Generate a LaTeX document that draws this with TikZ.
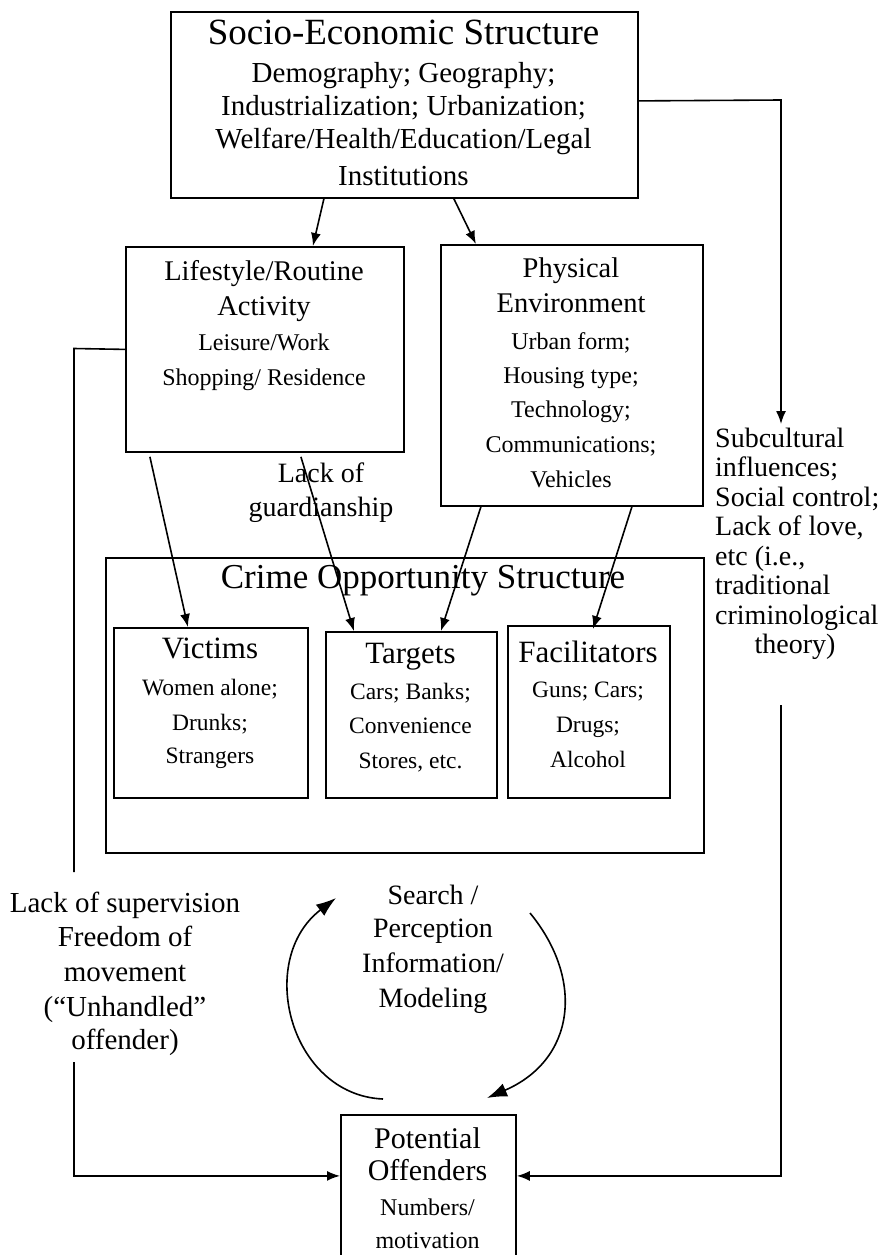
\documentclass[tikz,border=0pt]{standalone}
\usepackage{fontspec}
\setmainfont{Liberation Serif}
\usetikzlibrary{arrows.meta}
\begin{document}
\begin{tikzpicture}[x=1pt,y=-1pt,
  box/.style={draw, line width=1.8pt, rectangle, inner sep=0pt, anchor=north west},
  tbig/.style={anchor=base, inner sep=0pt, font=\fontsize{37}{40}\selectfont},
  thead/.style={anchor=base, inner sep=0pt, font=\fontsize{28.5}{32}\selectfont},
  tsub/.style={anchor=base, inner sep=0pt, font=\fontsize{24}{28}\selectfont},
  ttop/.style={anchor=base, inner sep=0pt, font=\fontsize{29}{32}\selectfont},
  tinh/.style={anchor=base, inner sep=0pt, font=\fontsize{31}{34}\selectfont},
  tins/.style={anchor=base, inner sep=0pt, font=\fontsize{23.5}{27}\selectfont},
  tfree/.style={anchor=base, inner sep=0pt, font=\fontsize{28}{30}\selectfont},
  tleft/.style={anchor=base, inner sep=0pt, font=\fontsize{29}{32}\selectfont},
  ln/.style={line width=1.6pt},
  arr/.style={line width=1.6pt, -{Latex[length=13pt,width=10pt]}},
  arrbig/.style={line width=1.6pt, -{Latex[length=20pt,width=14pt]}}]

\useasboundingbox (0,0) rectangle (895,1255);
\fill[white] (0,0) rectangle (895,1255);

% boxes
\node[box, minimum width=467pt, minimum height=186pt] (se) at (170,11) {};
\node[box, minimum width=278pt, minimum height=205pt] (ls) at (125,246) {};
\node[box, minimum width=262pt, minimum height=261pt] (pe) at (440,244) {};
\node[box, minimum width=598pt, minimum height=295pt] (co) at (105,557) {};
\node[box, minimum width=194pt, minimum height=170pt] (vi) at (113,627) {};
\node[box, minimum width=171pt, minimum height=166pt] (ta) at (325,631) {};
\node[box, minimum width=162pt, minimum height=172pt] (fa) at (507,625) {};
\node[box, minimum width=175pt, minimum height=176pt] (po) at (340,1114) {};

% Socio-Economic Structure
\node[tbig] (se1) at (403.5,45) {Socio-Economic Structure};
\node[ttop] (se2) at (403.5,82) {Demography; Geography;};
\node[ttop] (se3) at (403.5,115) {Industrialization; Urbanization;};
\node[ttop] (se4) at (403.5,148) {Welfare/Health/Education/Legal};
\node[ttop] (se5) at (403.5,185) {Institutions};

% Lifestyle
\node[thead] (ls1) at (264,280) {Lifestyle/Routine};
\node[thead] (ls2) at (264,315) {Activity};
\node[tsub] (ls3) at (264,350) {Leisure/Work};
\node[tsub] (ls4) at (264,385) {Shopping/ Residence};

% Physical
\node[thead] (pe1) at (571,277) {Physical};
\node[thead] (pe2) at (571,312) {Environment};
\node[tsub] (pe3) at (571,349) {Urban form;};
\node[tsub] (pe4) at (571,383) {Housing type;};
\node[tsub] (pe5) at (571,417) {Technology;};
\node[tsub] (pe6) at (571,452) {Communications;};
\node[tsub] (pe7) at (571,487) {Vehicles};

% guardianship label
\node[tfree] (gu1) at (321,482) {Lack of};
\node[tfree] (gu2) at (321,516) {guardianship};

% Crime opportunity
\node[anchor=base, inner sep=0pt, font=\fontsize{35}{38}\selectfont] (co1) at (423,588) {Crime Opportunity Structure};

\node[tinh] (vi1) at (210,658) {Victims};
\node[tins] (vi2) at (210,695) {Women alone;};
\node[tins] (vi3) at (210,730) {Drunks;};
\node[tins] (vi4) at (210,763) {Strangers};

\node[tinh] (ta1) at (410.5,663) {Targets};
\node[tins] (ta2) at (410.5,699) {Cars; Banks;};
\node[tins] (ta3) at (410.5,733) {Convenience};
\node[tins] (ta4) at (410.5,768) {Stores, etc.};

\node[tinh] (fa1) at (588,662) {Facilitators};
\node[tins] (fa2) at (588,697) {Guns; Cars;};
\node[tins] (fa3) at (588,732) {Drugs;};
\node[tins] (fa4) at (588,767) {Alcohol};

% right text
\node[tfree, anchor=base west] (rt1) at (715,447) {Subcultural};
\node[tfree, anchor=base west] (rt2) at (715,476.5) {influences;};
\node[tfree, anchor=base west] (rt3) at (715,506) {Social control;};
\node[tfree, anchor=base west] (rt4) at (715,535.5) {Lack of love,};
\node[tfree, anchor=base west] (rt5) at (715,565) {etc (i.e.,};
\node[tfree, anchor=base west] (rt6) at (715,594.5) {traditional};
\node[tfree, anchor=base west] (rt7) at (715,624) {criminological};
\node[tfree] (rt8) at (795,653.5) {theory)};

% left text
\node[tleft] (lt1) at (125,912) {Lack of supervision};
\node[tleft] (lt2) at (125,946) {Freedom of};
\node[tleft] (lt3) at (125,981) {movement};
\node[tleft] (lt4) at (125,1016) {(“Unhandled”};
\node[tleft] (lt5) at (125,1049) {offender)};

% search text
\node[tfree] (sr1) at (433,904) {Search /};
\node[tfree] (sr2) at (433,937) {Perception};
\node[tfree] (sr3) at (433,972) {Information/};
\node[tfree] (sr4) at (433,1007) {Modeling};

% potential offenders
\node[anchor=base, inner sep=0pt, font=\fontsize{30}{33}\selectfont] (po1) at (427.5,1148) {Potential};
\node[anchor=base, inner sep=0pt, font=\fontsize{30}{33}\selectfont] (po2) at (427.5,1180) {Offenders};
\node[tsub] (po3) at (427.5,1215) {Numbers/};
\node[tsub] (po4) at (427.5,1248) {motivation};

% arrows from top box
\draw[arr] ([xshift=-80.5pt]se.south) -- ([xshift=48pt]ls.north);
\draw[arr] ([xshift=49.5pt]se.south) -- ([xshift=-96pt]pe.north);

% lifestyle to victims / targets
\draw[arr] ([xshift=-115pt,yshift=-4pt]ls.south) -- ([xshift=-23pt]vi.north);
\draw[arr] ([xshift=36pt,yshift=-4pt]ls.south) -- ([xshift=-57.5pt]ta.north);

% physical to targets / facilitators
\draw[arr] ([xshift=-91pt]pe.south) -- ([xshift=29.5pt]ta.north);
\draw[arr] ([xshift=60pt]pe.south) -- ([xshift=4pt,yshift=-4pt]fa.north);

% right bracket
\coordinate (rc) at (781,100);
\coordinate (rtip) at (781,424);
\draw[arr] ([yshift=4pt]se.east) -- (rc) -- (rtip);
\coordinate (rs) at (781,705);
\draw[arr] (rs) |- ([yshift=27pt]po.east);

% left bracket
\coordinate (lc1) at (74,348.5);
\coordinate (lc2) at (74,872);
\draw[ln] (ls.west) -- (lc1) -- (lc2);
\coordinate (lc3) at (74,1062);
\draw[arr] (lc3) |- ([yshift=27pt]po.west);

% cycle arcs
\coordinate (la1) at (383,1099);
\coordinate (la2) at (336,898);
\draw[arrbig] (la1) .. controls (290,1095) and (255,960) .. (la2);
\coordinate (ra1) at (530,913);
\coordinate (ra2) at (487,1098);
\draw[arrbig] (ra1) .. controls (585,980) and (575,1060) .. (ra2);

\end{tikzpicture}
\end{document}
